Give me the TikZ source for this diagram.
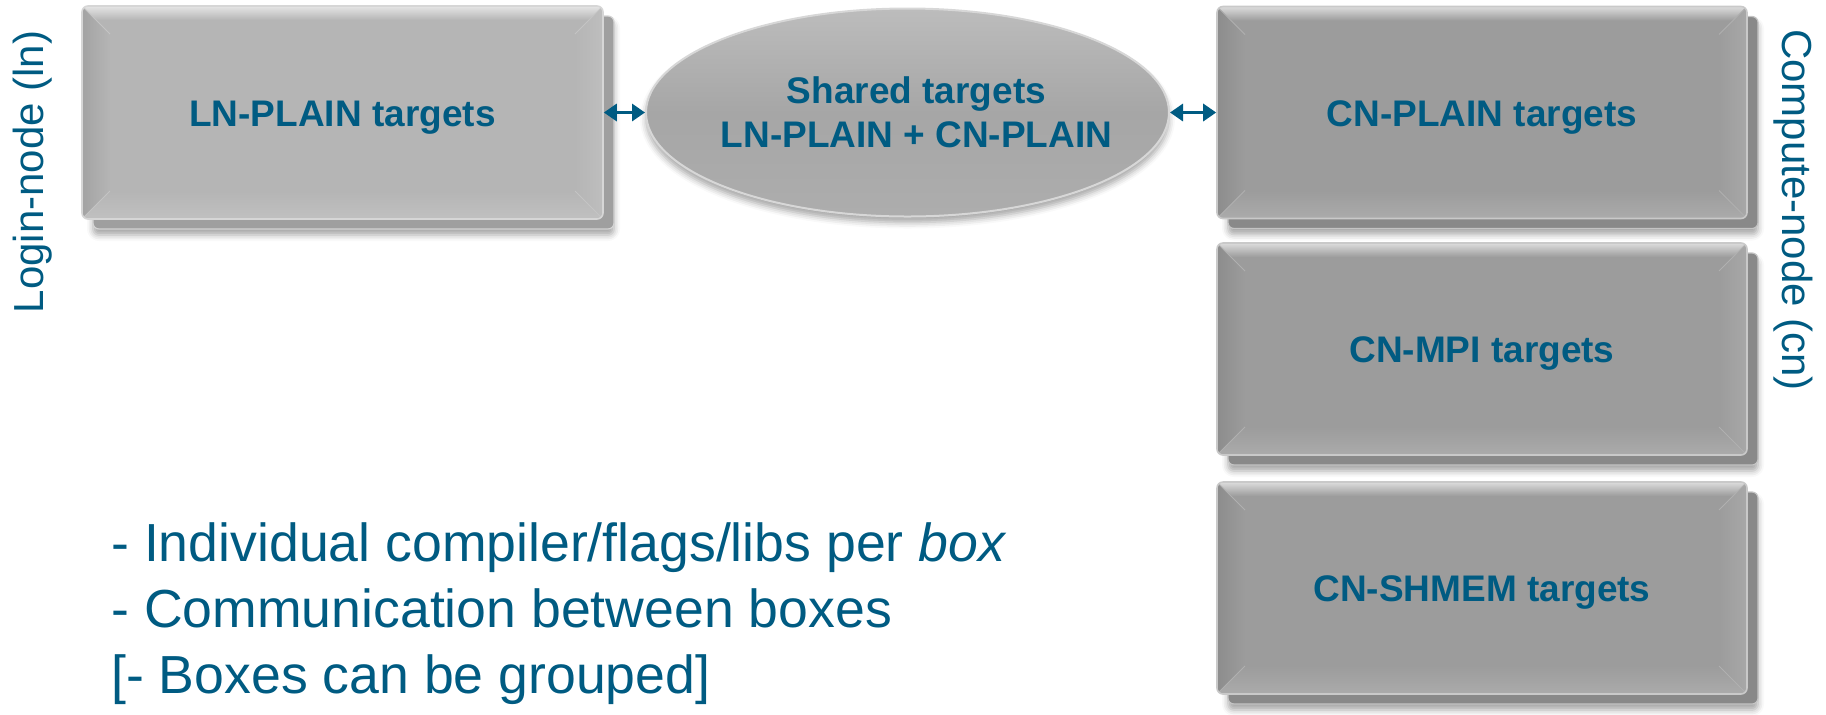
\documentclass[tikz,border=0pt]{standalone}
\usepackage{fontspec}
\setmainfont{Liberation Sans}
\usetikzlibrary{shapes.geometric,arrows.meta,shadows.blur}
\definecolor{txtblue}{RGB}{0,91,130}
\definecolor{boxL}{RGB}{181,181,181}
\definecolor{boxR}{RGB}{156,156,156}
\definecolor{ellC}{RGB}{166,166,166}
\newcommand\bxfont{\fontsize{18.5}{22}\selectfont\bfseries}
\newcommand\sidefont{\fontsize{21}{25}\selectfont}
\newcommand\listfont{\fontsize{26.8}{32}\selectfont}
\tikzset{
  lsize/.style={minimum width=260.5pt, minimum height=106.5pt},
  rsize/.style={minimum width=265pt, minimum height=106pt},
  bevelbox/.style={rectangle, rounded corners=3pt, inner sep=0pt,
    text height=17.4pt, text depth=3.9pt,
    fill=#1, draw=#1!55!white, line width=0.8pt, text=txtblue, font=\bxfont,
    path picture={
      \path (path picture bounding box.north west) coordinate (pA)
            (path picture bounding box.north east) coordinate (pB)
            (path picture bounding box.south east) coordinate (pC)
            (path picture bounding box.south west) coordinate (pD);
      \path ([shift={(14pt,-14pt)}]pA) coordinate (qA)
            ([shift={(-14pt,-14pt)}]pB) coordinate (qB)
            ([shift={(-14pt,14pt)}]pC) coordinate (qC)
            ([shift={(14pt,14pt)}]pD) coordinate (qD);
      \fill[top color=#1!35!white, bottom color=#1, middle color=#1] (pA) -- (pB) -- (qB) -- (qA) -- cycle;
      \fill[left color=#1!90!black, right color=#1] (pA) -- (qA) -- (qD) -- (pD) -- cycle;
      \fill[left color=#1, right color=#1!88!white] (pB) -- (pC) -- (qC) -- (qB) -- cycle;
      \fill[top color=#1, bottom color=#1!85!white] (pD) -- (qD) -- (qC) -- (pC) -- cycle;
      \draw[#1!80!white, line width=0.4pt] (pA) -- (qA) (pB) -- (qB) (pC) -- (qC) (pD) -- (qD);
    }},
  backbox/.style={rectangle, rounded corners=3pt, inner sep=0pt,
    fill=#1!88!black, draw=#1!60!white, line width=0.6pt,
    blur shadow={shadow xshift=0pt, shadow yshift=-3pt, shadow blur radius=3pt, shadow opacity=35}},
  ellnode/.style={ellipse, inner sep=0pt, minimum width=261.5pt, minimum height=104pt,
    draw=ellC!45!white, line width=1pt,
    top color=ellC!75!white, bottom color=ellC!92!white, middle color=ellC,
    blur shadow={shadow xshift=0pt, shadow yshift=-3pt, shadow blur radius=3pt, shadow opacity=35}},
  elltext/.style={text=txtblue, font=\bxfont, align=center, inner sep=0pt},
  link/.style={txtblue, line width=1.8pt, {Triangle[length=6.5pt,width=8.5pt]}-{Triangle[length=6.5pt,width=8.5pt]}},
  sidetext/.style={text=txtblue, font=\sidefont, inner sep=0pt, anchor=base},
  listtext/.style={text=txtblue, font=\listfont, inner sep=0pt, anchor=base west}
}
\begin{document}
\begin{tikzpicture}[x=0.5pt,y=-0.5pt]
\useasboundingbox (0,0) rectangle (1826,714);
% back copies
\node[backbox=boxL, lsize] (lnb) at (353.5,122.5) {};
\node[backbox=boxR, rsize] (cnpb) at (1493,122.5) {};
\node[backbox=boxR, rsize] (cnmb) at (1493,359) {};
\node[backbox=boxR, rsize] (cnsb) at (1493,598) {};
% front boxes
\node[bevelbox=boxL, lsize] (ln) at (342.5,112.5) {LN-PLAIN targets};
\node[ellnode] (shared) at (907.5,112.5) {};
\node[elltext] (sharedtxt) at ([xshift=4.5pt]shared.center) {Shared targets\\LN-PLAIN + CN-PLAIN};
\node[bevelbox=boxR, rsize] (cnp) at (1482,112.5) {CN-PLAIN targets};
\node[bevelbox=boxR, rsize] (cnm) at (1482,349) {CN-MPI targets};
\node[bevelbox=boxR, rsize] (cns) at (1482,588) {CN-SHMEM targets};
% connectors
\draw[link] (ln.east) -- (shared.west);
\draw[link] (shared.east) -- (cnp.west);
% side labels
\node[sidetext, rotate=90] (login) at (43,172) {Login-node (ln)};
\node[sidetext, rotate=-90] (compute) at (1782,210) {Compute-node (cn)};
% list
\node[listtext] (l1) at (111,561) {- Individual compiler/flags/libs per \textit{box}};
\node[listtext] (l2) at (111,627) {- Communication between boxes};
\node[listtext] (l3) at (111,693) {[- Boxes can be grouped]};
\end{tikzpicture}
\end{document}
